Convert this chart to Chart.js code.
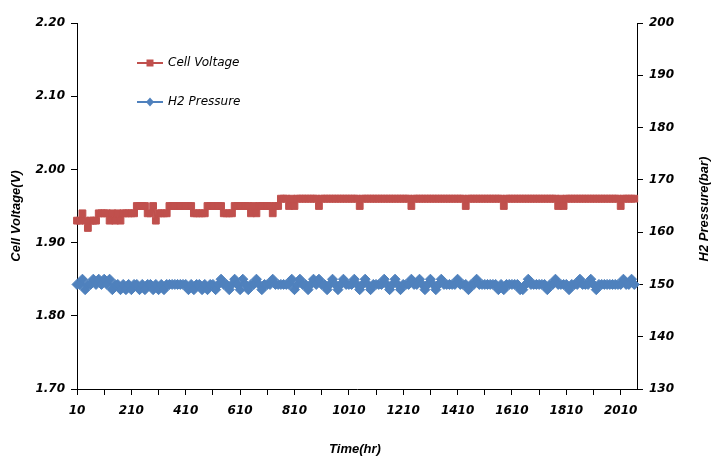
<!DOCTYPE html>
<html>
<head>
<meta charset="utf-8">
<script src="https://cdn.jsdelivr.net/npm/chart.js@4.4.0/dist/chart.umd.min.js"></script>
<style>
  html, body { margin: 0; padding: 0; background: #fff; }
</style>
</head>
<body>
<canvas id="myChart" width="717" height="462"></canvas>
<script>
// time axis (hr), one reading every 10 hr
var hours = [];
for (var h = 10; h <= 2060; h += 10) hours.push(h);

var xTicks = [10, 110, 210, 310, 410, 510, 610, 710, 810, 910, 1010, 1110, 1210, 1310, 1410, 1510, 1610, 1710, 1810, 1910, 2010];

var cellVoltage = [
    1.93,1.93,1.94,1.93,1.92,1.93,1.93,1.93,1.94,1.94,
    1.94,1.94,1.93,1.94,1.93,1.94,1.93,1.94,1.94,1.94,
    1.94,1.94,1.95,1.95,1.95,1.95,1.94,1.94,1.95,1.93,
    1.94,1.94,1.94,1.94,1.95,1.95,1.95,1.95,1.95,1.95,
    1.95,1.95,1.95,1.94,1.94,1.94,1.94,1.94,1.95,1.95,
    1.95,1.95,1.95,1.95,1.94,1.94,1.94,1.94,1.95,1.95,
    1.95,1.95,1.95,1.95,1.94,1.95,1.94,1.95,1.95,1.95,
    1.95,1.95,1.94,1.95,1.95,1.96,1.96,1.96,1.95,1.96,
    1.95,1.96,1.96,1.96,1.96,1.96,1.96,1.96,1.96,1.95,
    1.96,1.96,1.96,1.96,1.96,1.96,1.96,1.96,1.96,1.96,
    1.96,1.96,1.96,1.96,1.95,1.96,1.96,1.96,1.96,1.96,
    1.96,1.96,1.96,1.96,1.96,1.96,1.96,1.96,1.96,1.96,
    1.96,1.96,1.96,1.95,1.96,1.96,1.96,1.96,1.96,1.96,
    1.96,1.96,1.96,1.96,1.96,1.96,1.96,1.96,1.96,1.96,
    1.96,1.96,1.96,1.95,1.96,1.96,1.96,1.96,1.96,1.96,
    1.96,1.96,1.96,1.96,1.96,1.96,1.96,1.95,1.96,1.96,
    1.96,1.96,1.96,1.96,1.96,1.96,1.96,1.96,1.96,1.96,
    1.96,1.96,1.96,1.96,1.96,1.96,1.96,1.95,1.96,1.95,
    1.96,1.96,1.96,1.96,1.96,1.96,1.96,1.96,1.96,1.96,
    1.96,1.96,1.96,1.96,1.96,1.96,1.96,1.96,1.96,1.96,
    1.95,1.96,1.96,1.96,1.96,1.96
];

var h2Pressure = [
    150,150,151,149,150,150,151,150,151,150,
    151,150,151,149,150,150,149,150,149,150,
    149,150,150,149,150,149,150,150,149,150,
    149,150,149,150,150,150,150,150,150,150,
    150,149,150,149,150,150,149,150,149,150,
    150,149,150,151,150,150,149,150,151,150,
    149,151,150,149,150,150,151,150,149,150,
    150,150,151,150,150,150,150,150,150,151,
    149,150,151,150,150,149,150,151,150,151,
    150,150,149,150,151,150,149,150,151,150,
    150,150,151,150,149,150,151,150,149,150,
    150,150,150,151,150,149,150,151,150,149,
    150,150,150,151,150,150,151,150,149,150,
    151,150,149,150,151,150,150,150,150,150,
    151,150,150,150,149,150,150,151,150,150,
    150,150,150,150,150,149,150,149,150,150,
    150,150,150,149,149,150,151,150,150,150,
    150,150,150,149,150,150,151,150,150,150,
    150,149,150,150,150,151,150,150,150,151,
    150,149,150,150,150,150,150,150,150,150,
    150,151,150,150,151,150
];

var redColor = '#C0504D';
var blueColor = '#4F81BD';
var tickFont = { family: 'DejaVu Sans', size: 12, style: 'italic', weight: 'bold' };

function pairs(values) {
    return values.map(function (v, i) { return { x: hours[i], y: v }; });
}

// axis titles and the legend box in the upper left of the plot
var decorations = {
    id: 'decorations',
    afterDraw: function (chart) {
        var ctx = chart.ctx;
        ctx.save();
        ctx.fillStyle = '#000';
        ctx.textAlign = 'center';
        ctx.textBaseline = 'middle';
        ctx.font = 'italic bold 13px "Liberation Sans"';
        ctx.fillText('Time(hr)', 355, 449);

        ctx.save();
        ctx.translate(16, 216);
        ctx.rotate(-Math.PI / 2);
        ctx.fillText('Cell Voltage(V)', 0, 0);
        ctx.restore();

        ctx.save();
        ctx.translate(704, 209);
        ctx.rotate(-Math.PI / 2);
        ctx.fillText('H2 Pressure(bar)', 0, 0);
        ctx.restore();

        // legend
        var items = [
            { text: 'Cell Voltage', color: redColor, shape: 'rect', y: 63 },
            { text: 'H2 Pressure', color: blueColor, shape: 'diamond', y: 102 }
        ];
        items.forEach(function (it) {
            ctx.strokeStyle = it.color;
            ctx.fillStyle = it.color;
            ctx.lineWidth = 2;
            ctx.beginPath();
            ctx.moveTo(137, it.y);
            ctx.lineTo(163, it.y);
            ctx.stroke();
            ctx.beginPath();
            if (it.shape === 'rect') {
                ctx.rect(146.5, it.y - 3.5, 7, 7);
            } else {
                ctx.moveTo(150, it.y - 4.5);
                ctx.lineTo(154, it.y);
                ctx.lineTo(150, it.y + 4.5);
                ctx.lineTo(146, it.y);
                ctx.closePath();
            }
            ctx.fill();
            ctx.fillStyle = '#000';
            ctx.textAlign = 'left';
            ctx.font = 'italic 12px "DejaVu Sans"';
            ctx.fillText(it.text, 168, it.y);
        });
        ctx.restore();
    }
};

var ctx = document.getElementById('myChart').getContext('2d');
new Chart(ctx, {
    type: 'line',
    data: {
        datasets: [{
            label: 'Cell Voltage',
            data: pairs(cellVoltage),
            yAxisID: 'yV',
            borderColor: redColor,
            backgroundColor: redColor,
            borderWidth: 2,
            pointStyle: 'rect',
            pointRadius: 4.8,
            pointBorderWidth: 1,
            pointBorderColor: redColor,
            pointBackgroundColor: redColor,
            tension: 0,
            clip: false
        }, {
            label: 'H2 Pressure',
            data: pairs(h2Pressure),
            yAxisID: 'yP',
            borderColor: blueColor,
            backgroundColor: blueColor,
            borderWidth: 2,
            pointStyle: 'rectRot',
            pointRadius: 5,
            pointBorderWidth: 1,
            pointBorderColor: blueColor,
            pointBackgroundColor: blueColor,
            tension: 0,
            clip: false
        }]
    },
    options: {
        responsive: false,
        animation: false,
        layout: { padding: { top: 23, left: 0, right: 0, bottom: 0 } },
        plugins: { legend: { display: false }, tooltip: { enabled: false } },
        scales: {
            x: {
                type: 'linear',
                min: 10,
                max: 2070,
                afterBuildTicks: function (axis) {
                    axis.ticks = xTicks.map(function (v) { return { value: v }; });
                },
                afterFit: function (scale) { scale.height = 73; },
                ticks: {
                    autoSkip: false,
                    maxRotation: 0,
                    padding: 9,
                    color: '#000',
                    font: tickFont,
                    callback: function (v) { return (v - 10) % 200 === 0 ? String(v) : ''; }
                },
                grid: { drawOnChartArea: false, tickLength: 6, color: '#000' },
                border: { color: '#000', width: 1 }
            },
            yV: {
                position: 'left',
                min: 1.7,
                max: 2.2,
                afterFit: function (scale) { scale.width = 77; },
                ticks: {
                    stepSize: 0.1,
                    padding: 6,
                    color: '#000',
                    font: tickFont,
                    callback: function (v) { return Number(v).toFixed(2); }
                },
                grid: { drawOnChartArea: false, tickLength: 6, color: '#000' },
                border: { color: '#000', width: 1 }
            },
            yP: {
                position: 'right',
                min: 130,
                max: 200,
                afterFit: function (scale) { scale.width = 80; },
                ticks: {
                    stepSize: 10,
                    padding: 6,
                    color: '#000',
                    font: tickFont
                },
                grid: { drawOnChartArea: false, tickLength: 6, color: '#000' },
                border: { color: '#000', width: 1 }
            }
        }
    },
    plugins: [decorations]
});
</script>
</body>
</html>
